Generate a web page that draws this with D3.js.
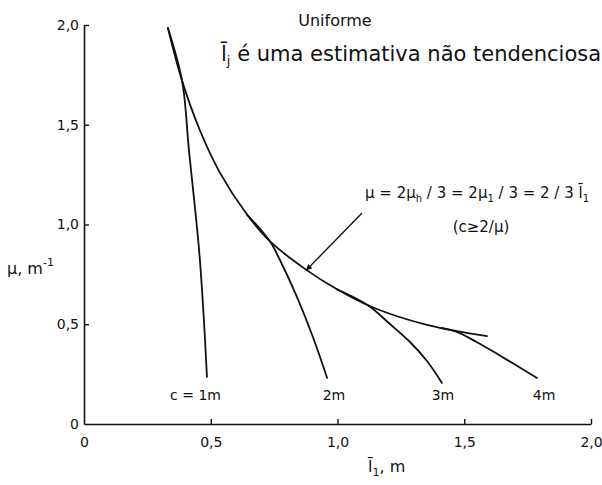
<!DOCTYPE html>
<html>
<head>
<meta charset="utf-8">
<script src="https://cdn.jsdelivr.net/npm/d3@7"></script>
<style>
  html, body { margin: 0; padding: 0; background: #fff; }
  svg { display: block; }
  text { font-family: "DejaVu Sans", "Liberation Sans", sans-serif; fill: #111; }
</style>
</head>
<body>
<svg id="chart" width="602" height="485"></svg>
<script>
// Mean chord length l̄1 (m) vs. attenuation μ (m^-1), uniform distribution
const mainL  = [0.331, 0.387, 0.458, 0.536, 0.643, 0.734, 0.880, 0.998, 1.120, 1.235, 1.353, 1.471, 1.590];
const mainMu = [1.985, 1.720, 1.470, 1.260, 1.050, 0.915, 0.770, 0.675, 0.595, 0.540, 0.497, 0.465, 0.441];

const c1L  = [0.331, 0.387, 0.414, 0.454, 0.473, 0.485];
const c1Mu = [1.985, 1.720, 1.373, 0.872, 0.521, 0.236];

const c2L  = [0.643, 0.734, 0.773, 0.840, 0.903, 0.959];
const c2Mu = [1.050, 0.915, 0.822, 0.637, 0.436, 0.231];

const c3L  = [0.998, 1.120, 1.207, 1.286, 1.353, 1.412];
const c3Mu = [0.675, 0.595, 0.501, 0.411, 0.316, 0.206];

const c4L  = [1.410, 1.471, 1.550, 1.629, 1.787];
const c4Mu = [0.482, 0.462, 0.410, 0.352, 0.231];

const xTicks = [0, 0.5, 1.0, 1.5, 2.0];
const yTicks = [0, 0.5, 1.0, 1.5, 2.0];
const fmt = v => v === 0 ? "0" : d3.format(".1f")(v).replace(".", ",");

const svg = d3.select("#chart");
const x = d3.scaleLinear().domain([0, 2]).range([84, 591]);
const y = d3.scaleLinear().domain([0, 2]).range([424, 25]);

// axes
const xAxis = d3.axisBottom(x).tickValues(xTicks).tickSizeInner(-5).tickSizeOuter(0).tickPadding(13).tickFormat(fmt);
const yAxis = d3.axisLeft(y).tickValues(yTicks).tickSizeInner(-5).tickSizeOuter(0).tickPadding(5).tickFormat(fmt);

const gx = svg.append("g").attr("transform", `translate(0,${y(0)})`).call(xAxis);
const gy = svg.append("g").attr("transform", `translate(${x(0)},0)`).call(yAxis);
[gx, gy].forEach(g => {
  g.select(".domain").attr("stroke", "#111").attr("stroke-width", 1.6);
  g.selectAll(".tick line").attr("stroke", "#111").attr("stroke-width", 1.4);
  g.selectAll(".tick text").attr("font-family", "DejaVu Sans, Liberation Sans, sans-serif")
    .attr("font-size", 14).attr("fill", "#111");
});
gx.selectAll(".tick").filter(d => d === 0).select("line").remove();
gy.selectAll(".tick").filter(d => d === 0).select("line").remove();

// curves: the limiting curve and the four branches for fixed c
const line = d3.line().x(d => x(d[0])).y(d => y(d[1])).curve(d3.curveCatmullRom.alpha(0.5));
const series = [[mainL, mainMu], [c1L, c1Mu], [c2L, c2Mu], [c3L, c3Mu], [c4L, c4Mu]];
series.forEach(([ls, ms]) => {
  svg.append("path")
    .datum(ls.map((l, i) => [l, ms[i]]))
    .attr("d", line)
    .attr("fill", "none")
    .attr("stroke", "#111")
    .attr("stroke-width", 1.8)
    .attr("stroke-linecap", "round");
});

// curve labels
const curveLabels = [
  { t: "c = 1m", l: 0.44, m: 0.12 },
  { t: "2m", l: 0.986, m: 0.12 },
  { t: "3m", l: 1.416, m: 0.12 },
  { t: "4m", l: 1.815, m: 0.12 }
];
svg.selectAll("text.clabel").data(curveLabels).enter().append("text")
  .attr("class", "clabel")
  .attr("x", d => x(d.l)).attr("y", d => y(d.m))
  .attr("text-anchor", "middle")
  .attr("font-size", 14)
  .text(d => d.t);

// arrow pointing at the limiting curve
svg.append("defs").append("marker")
  .attr("id", "head").attr("viewBox", "0 0 10 10")
  .attr("refX", 10).attr("refY", 5)
  .attr("markerWidth", 10).attr("markerHeight", 6)
  .attr("markerUnits", "userSpaceOnUse")
  .attr("orient", "auto")
  .append("path").attr("d", "M0,0 L10,5 L0,10 Z").attr("fill", "#111");

svg.append("line")
  .attr("x1", x(1.097)).attr("y1", y(1.058))
  .attr("x2", x(0.876)).attr("y2", y(0.770))
  .attr("stroke", "#111").attr("stroke-width", 1.4)
  .attr("marker-end", "url(#head)");

// formula annotation
const f = svg.append("text").attr("x", 365).attr("y", 198).attr("font-size", 15);
f.append("tspan").text("μ = 2μ");
f.append("tspan").attr("dy", 4).attr("font-size", 10).text("h");
f.append("tspan").attr("dy", -4).text(" / 3 = 2μ");
f.append("tspan").attr("dy", 4).attr("font-size", 10).text("1");
f.append("tspan").attr("dy", -4).text(" / 3 = 2 / 3 l\u0304");
f.append("tspan").attr("dy", 4).attr("font-size", 10).text("1");

svg.append("text").attr("x", 481).attr("y", 232).attr("text-anchor", "middle")
  .attr("font-size", 15).text("(c≥2/μ)");

// title lines
svg.append("text").attr("x", 335).attr("y", 26).attr("text-anchor", "middle")
  .attr("font-size", 16).text("Uniforme");

const t2 = svg.append("text").attr("x", 221).attr("y", 61).attr("font-size", 21);
t2.append("tspan").text("l\u0304");
t2.append("tspan").attr("dy", 4).attr("font-size", 13).text("j");
t2.append("tspan").attr("dy", -4).text(" é uma estimativa não tendenciosa");

// axis titles
const yt = svg.append("text").attr("x", 7).attr("y", 274).attr("font-size", 16);
yt.append("tspan").text("μ, m");
yt.append("tspan").attr("dy", -8).attr("font-size", 11).text("-1");

const xt = svg.append("text").attr("x", 368).attr("y", 472).attr("font-size", 16);
xt.append("tspan").text("l\u0304");
xt.append("tspan").attr("dy", 4).attr("font-size", 11).text("1");
xt.append("tspan").attr("dy", -4).text(", m");
</script>
</body>
</html>
